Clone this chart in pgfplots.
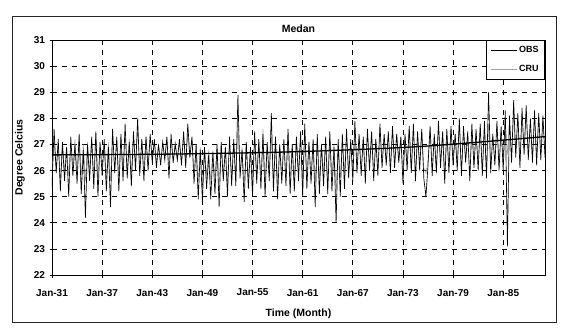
\documentclass[border=0pt]{standalone}
\usepackage{fontspec}
\setmainfont{Liberation Sans}
\usepackage{pgfplots}
\usepackage{pgfplotstable}
\pgfplotsset{compat=1.18}

% OBS: quarterly values, Jan-1931 onwards (4 per year)
\pgfplotstableread[row sep=\\]{
v\\
25.4\\27.6\\25.9\\27.2\\
25.2\\27.1\\25.6\\26.9\\
25.0\\27.3\\25.8\\27.0\\
25.5\\27.4\\25.1\\26.8\\
24.2\\27.0\\25.6\\27.3\\
25.3\\27.5\\25.0\\27.1\\
25.8\\27.2\\25.2\\26.9\\
24.6\\27.6\\25.9\\27.3\\
25.2\\27.4\\25.6\\27.8\\
25.7\\27.1\\25.4\\27.5\\
26.0\\28.0\\25.8\\27.2\\
25.6\\27.3\\26.0\\27.4\\
26.3\\27.2\\26.1\\27.0\\
26.2\\27.1\\26.4\\27.3\\
25.7\\27.4\\26.3\\27.0\\
26.4\\27.2\\26.2\\27.5\\
26.1\\27.8\\26.5\\27.3\\
25.5\\27.0\\24.9\\26.8\\
24.8\\26.9\\25.3\\26.6\\
24.9\\26.7\\25.1\\27.0\\
24.6\\27.1\\25.6\\26.9\\
25.0\\27.3\\25.4\\27.2\\
25.4\\28.9\\25.7\\26.8\\
24.8\\27.1\\25.3\\26.9\\
25.0\\27.5\\25.5\\27.2\\
25.3\\27.4\\25.0\\27.1\\
25.6\\28.2\\25.2\\27.3\\
24.9\\27.0\\25.5\\27.2\\
25.4\\27.6\\25.1\\27.0\\
25.2\\27.3\\25.6\\27.5\\
25.0\\27.8\\25.3\\27.1\\
25.5\\27.2\\24.6\\27.4\\
25.1\\27.0\\25.4\\27.3\\
25.1\\27.5\\25.2\\26.9\\
24.0\\27.2\\25.0\\27.4\\
25.3\\27.6\\25.7\\27.2\\
25.6\\27.9\\25.9\\27.4\\
25.8\\27.3\\25.5\\27.6\\
26.0\\27.5\\25.6\\27.2\\
25.8\\27.8\\26.1\\27.4\\
26.2\\27.5\\25.9\\27.7\\
26.1\\27.4\\26.3\\27.3\\
25.5\\27.4\\26.0\\27.7\\
25.9\\27.8\\25.6\\27.5\\
26.0\\27.6\\25.7\\25.0\\
26.2\\27.7\\25.8\\27.4\\
25.9\\27.9\\26.1\\27.5\\
25.5\\27.6\\25.9\\27.7\\
26.2\\27.4\\26.0\\28.0\\
25.8\\27.7\\26.3\\27.5\\
25.6\\27.8\\26.1\\27.6\\
26.0\\27.8\\25.8\\27.9\\
25.7\\29.0\\25.9\\27.4\\
26.2\\27.9\\26.0\\27.7\\
26.0\\28.3\\23.1\\28.1\\
26.3\\28.7\\26.5\\28.2\\
26.1\\28.4\\26.6\\28.5\\
26.4\\28.0\\26.3\\28.3\\
26.2\\28.2\\26.4\\28.1\\
26.5\\28.4\\26.3\\28.0\\
}\obs

% CRU: quarterly values, Jan-1931 onwards
\pgfplotstableread[row sep=\\]{
v\\
25.9\\27.2\\26.1\\27.0\\
25.7\\27.0\\26.0\\26.9\\
25.8\\27.1\\26.2\\27.2\\
25.9\\27.3\\25.8\\27.0\\
25.6\\27.1\\26.0\\27.2\\
25.8\\27.4\\25.7\\27.0\\
26.0\\27.1\\25.7\\27.1\\
25.6\\27.4\\26.1\\27.2\\
25.8\\27.3\\26.0\\27.5\\
26.0\\27.2\\25.9\\27.3\\
26.2\\27.6\\26.0\\27.2\\
26.0\\27.3\\26.2\\27.3\\
26.4\\27.1\\26.3\\27.0\\
26.3\\27.0\\26.5\\27.2\\
26.1\\27.2\\26.4\\27.1\\
26.4\\27.1\\26.3\\27.3\\
26.3\\27.4\\26.5\\27.2\\
25.9\\27.0\\25.6\\26.9\\
25.5\\26.9\\25.8\\26.8\\
25.6\\26.8\\25.7\\27.0\\
25.5\\27.0\\25.9\\26.9\\
25.6\\27.1\\25.8\\27.1\\
25.8\\27.6\\26.0\\26.9\\
25.5\\27.0\\25.7\\26.9\\
25.6\\27.3\\25.9\\27.1\\
25.8\\27.6\\25.6\\27.0\\
25.9\\27.3\\25.7\\27.2\\
25.6\\27.0\\25.9\\27.1\\
25.8\\27.4\\25.6\\27.0\\
25.7\\27.2\\26.0\\27.3\\
25.6\\27.5\\25.8\\27.1\\
25.9\\27.1\\25.5\\27.3\\
25.7\\27.0\\25.9\\27.2\\
25.6\\27.3\\25.8\\27.0\\
25.2\\27.1\\25.7\\27.3\\
25.9\\27.4\\26.0\\27.1\\
26.0\\27.6\\26.2\\27.3\\
26.1\\27.2\\25.9\\27.5\\
26.2\\27.4\\26.0\\27.2\\
26.1\\27.6\\26.3\\27.3\\
26.4\\27.4\\26.2\\27.6\\
26.3\\27.4\\26.5\\27.3\\
26.0\\27.3\\26.3\\27.6\\
26.2\\27.6\\25.9\\27.4\\
26.3\\27.5\\26.1\\25.9\\
26.4\\27.6\\26.2\\27.3\\
26.2\\27.7\\26.4\\27.5\\
26.0\\27.5\\26.2\\27.6\\
26.5\\27.4\\26.3\\27.8\\
26.0\\27.5\\26.4\\27.3\\
25.8\\27.6\\26.2\\27.4\\
26.2\\27.7\\26.0\\27.6\\
25.9\\27.8\\26.1\\27.3\\
26.4\\27.7\\26.2\\27.6\\
26.3\\28.0\\26.6\\27.9\\
26.5\\28.2\\26.7\\28.0\\
26.4\\28.1\\26.8\\28.2\\
26.7\\27.8\\26.5\\28.1\\
26.5\\28.0\\26.7\\27.9\\
26.8\\28.1\\26.6\\27.9\\
}\cru

\begin{document}
\begin{tikzpicture}
\begin{axis}[
  name=ax, at={(0,0)}, anchor=south west,
  scale only axis, width=493pt, height=235pt,
  xmin=1931, xmax=1990, ymin=22, ymax=31,
  xtick={1931,1937,1943,1949,1955,1961,1967,1973,1979,1985},
  xticklabels={Jan-31,Jan-37,Jan-43,Jan-49,Jan-55,Jan-61,Jan-67,Jan-73,Jan-79,Jan-85},
  ytick={22,23,...,31},
  xtick pos=left, ytick pos=left,
  grid=major,
  major grid style={black, dash pattern=on 5pt off 5pt, line width=0.7pt},
  tick align=center, major tick length=5pt,
  tick style={black, line width=0.7pt},
  axis line style={black, line width=0.9pt},
  /pgf/number format/assume math mode=true,
  ticklabel style={font=\bfseries\fontsize{10}{11}\selectfont},
  xticklabel style={yshift=-8pt},
  yticklabel style={xshift=-1pt},
  xlabel={Time (Month)}, ylabel={Degree Celcius},
  label style={font=\bfseries\fontsize{10.5}{12}\selectfont},
  x label style={at={(axis description cs:0.5,-0.166)}, anchor=center},
  y label style={at={(axis description cs:-0.065,0.5)}, anchor=center},
  title={Medan},
  title style={font=\bfseries\fontsize{10.5}{12}\selectfont, at={(axis description cs:0.5,1)}, anchor=south, yshift=-2.5pt},
  legend style={at={(1,1)}, anchor=north east, draw=black, line width=0.9pt,
    font=\bfseries\fontsize{9}{10}\selectfont, row sep=7pt, inner sep=4pt, fill=white},
  legend cell align=left, reverse legend,
  legend image code/.code={\draw[#1] (0pt,0pt) -- (26pt,0pt);},
]
\addplot[gray!75, line width=0.45pt] table[x expr=1931+\coordindex/4, y=v] {\cru};
\addlegendentry{CRU}
\addplot[black, line width=0.65pt] table[x expr=1931+\coordindex/4, y=v] {\obs};
\addlegendentry{OBS}
\addplot[black, line width=1.3pt, smooth, forget plot] coordinates {
(1931,26.60) (1945,26.63) (1960,26.72) (1975,26.92) (1990,27.30)};
\end{axis}
\draw[black!85, line width=0.8pt] (-40pt,-47pt) rectangle (504pt,259pt);
\pgfresetboundingbox
\path[use as bounding box] (-52pt,-52pt) rectangle (510pt,275pt);
\end{tikzpicture}
\end{document}
